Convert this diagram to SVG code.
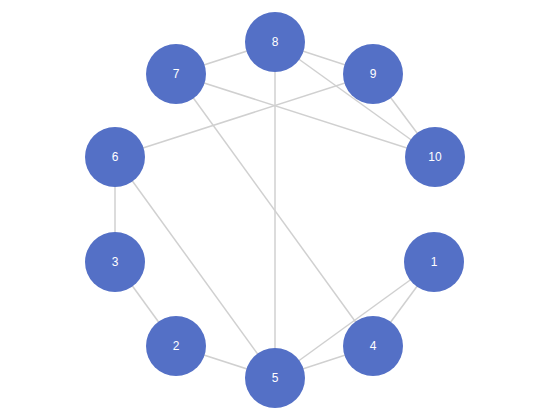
<svg xmlns="http://www.w3.org/2000/svg" width="550" height="420" viewBox="0 0 550 420">
<style>
.e{stroke:#d0d0d0;stroke-width:1.5;fill:none}
.n circle{fill:#5470c6}
.n text{fill:#fff;font-family:"Liberation Sans",Arial,sans-serif;font-size:12px;text-anchor:middle;dominant-baseline:central}
</style>
<rect width="550" height="420" fill="#fff"/>
<g id="edges">
<line class="e" x1="275" y1="42" x2="176" y2="74"/>
<line class="e" x1="275" y1="42" x2="373" y2="74"/>
<line class="e" x1="275" y1="42" x2="435" y2="157"/>
<line class="e" x1="275" y1="42" x2="275" y2="378"/>
<line class="e" x1="373" y1="74" x2="435" y2="157"/>
<line class="e" x1="373" y1="74" x2="115" y2="157"/>
<line class="e" x1="176" y1="74" x2="435" y2="157"/>
<line class="e" x1="176" y1="74" x2="373" y2="346"/>
<line class="e" x1="115" y1="157" x2="115" y2="262"/>
<line class="e" x1="115" y1="157" x2="275" y2="378"/>
<line class="e" x1="115" y1="262" x2="176" y2="346"/>
<line class="e" x1="176" y1="346" x2="275" y2="378"/>
<line class="e" x1="275" y1="378" x2="373" y2="346"/>
<line class="e" x1="275" y1="378" x2="435" y2="262"/>
<line class="e" x1="373" y1="346" x2="435" y2="262"/>
</g>
<g id="n8" class="n"><circle cx="275" cy="42" r="30"/><text x="275" y="42">8</text></g>
<g id="n9" class="n"><circle cx="373" cy="74" r="30"/><text x="373" y="74">9</text></g>
<g id="n7" class="n"><circle cx="176" cy="74" r="30"/><text x="176" y="74">7</text></g>
<g id="n6" class="n"><circle cx="115" cy="157" r="30"/><text x="115" y="157">6</text></g>
<g id="n10" class="n"><circle cx="435" cy="157" r="30"/><text x="435" y="157">10</text></g>
<g id="n3" class="n"><circle cx="115" cy="262" r="30"/><text x="115" y="262">3</text></g>
<g id="n1" class="n"><circle cx="434" cy="262" r="30"/><text x="434" y="262">1</text></g>
<g id="n2" class="n"><circle cx="176" cy="346" r="30"/><text x="176" y="346">2</text></g>
<g id="n4" class="n"><circle cx="373" cy="346" r="30"/><text x="373" y="346">4</text></g>
<g id="n5" class="n"><circle cx="275" cy="378" r="30"/><text x="275" y="378">5</text></g>
</svg>
